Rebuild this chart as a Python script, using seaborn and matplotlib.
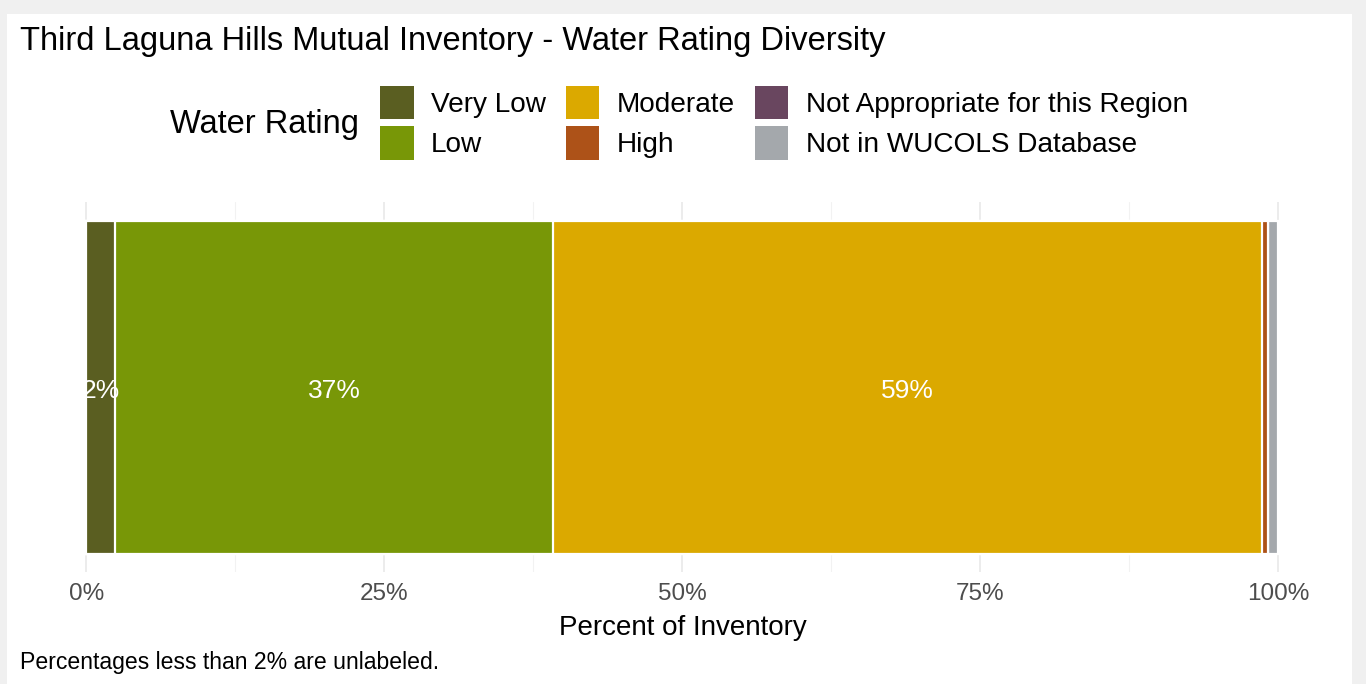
import matplotlib
matplotlib.use("Agg")
import matplotlib.pyplot as plt
from matplotlib.patches import Patch, Rectangle
from matplotlib.ticker import FixedLocator
import seaborn as sns
import pandas as pd
import numpy as np

# data (percent of inventory)
ratings = ['Very Low', 'Low', 'Moderate', 'High',
           'Not Appropriate for this Region', 'Not in WUCOLS Database']
percents = [2.4, 36.75, 59.45, 0.55, 0.0, 0.85]
colors = ['#5a5e21', '#789707', '#dba900', '#ad5218', '#69465f', '#a4a8ac']

df = pd.DataFrame({'rating': ratings, 'pct': percents, 'color': colors})
df['cum'] = df['pct'].cumsum()
df['start'] = df['cum'] - df['pct']
df['row'] = 'Inventory'

sns.set_theme(style='white')
plt.rcParams['font.family'] = ['Liberation Sans', 'DejaVu Sans']
plt.rcParams['text.color'] = 'black'

W, H = 1366, 684
fig = plt.figure(figsize=(W / 100, H / 100), dpi=100, facecolor='#f0f0f0')
# white card behind the chart
fig.patches.append(Rectangle((7 / W, 0), (1352 - 7) / W, 1 - 14 / H,
                             transform=fig.transFigure, facecolor='white',
                             edgecolor='none', zorder=-5))

px_per = (1278.5 - 86.5) / 100
left = 86.5 - 5 * px_per
right = 1278.5 + 5 * px_per
ax = fig.add_axes([left / W, 112 / H, (right - left) / W, (572 - 202) / H])
ax.set_facecolor('none')

# stacked bar: draw cumulative totals from longest to shortest
for i in range(len(df) - 1, -1, -1):
    row = df.iloc[[i]]
    sns.barplot(data=row, x='cum', y='row', orient='h', color=row['color'].iloc[0],
                width=0.9, edgecolor='white', linewidth=1.6, saturation=1,
                ax=ax, zorder=2)

for _, r in df.iterrows():
    if r['pct'] >= 2:
        ax.text(r['start'] + r['pct'] / 2, 0.01, f"{r['pct']:.0f}%", color='white',
                ha='center', va='center', fontsize=19, zorder=3)

ax.set_xlim(-5, 105)
ax.set_ylim(0.5, -0.5)
ax.xaxis.set_major_locator(FixedLocator([0, 25, 50, 75, 100]))
ax.xaxis.set_minor_locator(FixedLocator([12.5, 37.5, 62.5, 87.5]))
ax.set_xticklabels(['0%', '25%', '50%', '75%', '100%'])
ax.grid(which='major', axis='x', color='#ebebeb', linewidth=1.3, zorder=0)
ax.grid(which='minor', axis='x', color='#f2f2f2', linewidth=0.8, zorder=0)
ax.grid(axis='y', visible=False)
ax.set_axisbelow(True)
ax.set_yticks([])
ax.set_ylabel('')
ax.tick_params(axis='x', which='both', length=0, pad=8, labelsize=17.5, labelcolor='#4d4d4d')
ax.set_xlabel('Percent of Inventory', fontsize=20, color='black', labelpad=7)
for s in ax.spines.values():
    s.set_visible(False)

fig.text(20 / W, 1 - 50 / H, 'Third Laguna Hills Mutual Inventory - Water Rating Diversity',
         fontsize=23.5, ha='left', va='baseline', color='black')
fig.text(170 / W, 1 - 124 / H, 'Water Rating', fontsize=23.5, ha='left', va='center',
         color='black')

handles = [Patch(facecolor=c, edgecolor='none') for c in colors]
fig.legend(handles, ratings, loc='upper left', bbox_to_anchor=(380 / W, 1 - 86 / H),
           ncol=3, frameon=False, fontsize=20.2, handlelength=1.2, handleheight=1.46,
           handletextpad=0.62, columnspacing=0.7, labelspacing=0.24,
           borderpad=0, borderaxespad=0, labelcolor='black')

fig.text(20 / W, 1 - 662 / H, 'Percentages less than 2% are unlabeled.',
         fontsize=16.6, ha='left', va='center', color='black')

fig.savefig('out.png', dpi=100, facecolor=fig.get_facecolor())
